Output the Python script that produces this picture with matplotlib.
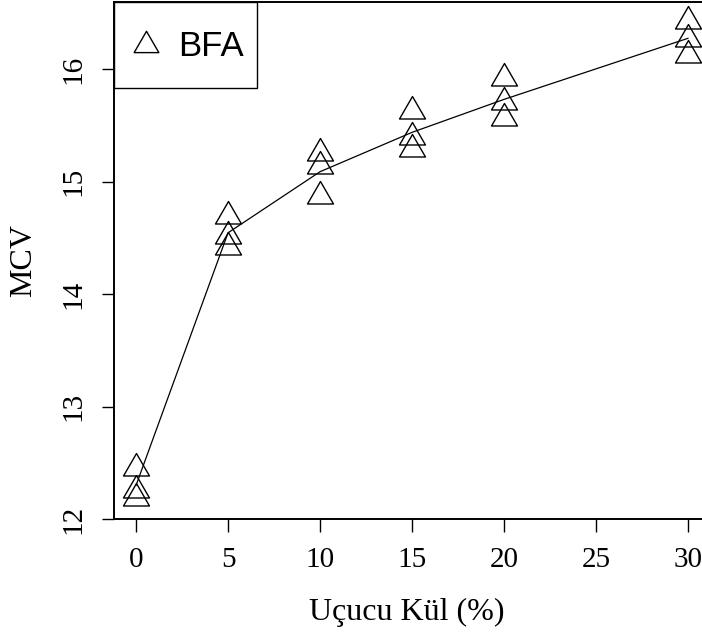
import numpy as np
import matplotlib
matplotlib.use("Agg")
import matplotlib.pyplot as plt
from matplotlib.path import Path
from matplotlib.lines import Line2D
from matplotlib.legend_handler import HandlerLine2D

# data (three replicates per fly-ash level)
kul = [0, 5, 10, 15, 20, 30]
mcv_1 = [12.45, 14.70, 15.26, 15.63, 15.92, 16.43]
mcv_2 = [12.26, 14.52, 15.14, 15.40, 15.71, 16.27]
mcv_3 = [12.19, 14.42, 14.87, 15.29, 15.57, 16.13]
xticks = [0, 5, 10, 15, 20, 25, 30]
yticks = [12, 13, 14, 15, 16]

plt.rcParams["font.family"] = "Liberation Serif"

# R-style pch=2 triangle, centred on its centroid
tri = Path([(0, 1.555), (1.3468, -0.7776), (-1.3468, -0.7776), (0, 1.555)],
           [Path.MOVETO, Path.LINETO, Path.LINETO, Path.CLOSEPOLY])


class DownHandler(HandlerLine2D):
    # nudge the legend marker down a little, like R's legend()
    def create_artists(self, legend, orig_handle, xdescent, ydescent,
                       width, height, fontsize, trans):
        arts = super().create_artists(legend, orig_handle, xdescent, ydescent,
                                      width, height, fontsize, trans)
        for a in arts:
            a.set_ydata(np.asarray(a.get_ydata()) - 6.5)
        return arts


fig = plt.figure(figsize=(7.02, 6.34), dpi=100)
ax = fig.add_axes([114 / 702, 115 / 634, 596 / 702, 517 / 634])

means = np.mean([mcv_1, mcv_2, mcv_3], axis=0)
ax.plot(kul, means, color="black", lw=0.9)

for i, vals in enumerate([mcv_1, mcv_2, mcv_3]):
    ax.plot(kul, vals, ls="none", marker=tri, ms=21.6, mfc="none",
            mec="black", mew=1.0, label="BFA" if i == 0 else None)

ax.set_xlim(-1.2, 31.2)
ax.set_ylim(12, 16.6)
ax.set_xticks(xticks)
ax.set_yticks(yticks)
ax.tick_params(length=9, width=1.0, labelsize=21, pad=11, colors="black")
ax.tick_params(axis="y", labelrotation=90, pad=11)
for lab in ax.get_yticklabels():
    lab.set_va("center")

for s in ax.spines.values():
    s.set_linewidth(1.4)

ax.set_xlabel("Uçucu Kül (%)", fontsize=23)
ax.xaxis.set_label_coords(0.4916, -0.1528)
ax.set_ylabel("MCV", fontsize=23, labelpad=16)

leg = ax.legend(loc="upper left", fancybox=False, edgecolor="black",
                prop={"family": "Liberation Sans", "size": 25},
                handlelength=1.04, handletextpad=0.4, borderpad=0.4,
                handleheight=2.2, borderaxespad=0, framealpha=1,
                handler_map={Line2D: DownHandler()})
leg.get_frame().set_linewidth(1.0)
leg.legend_handles[0].set_markersize(20.5)

fig.savefig("out.png", dpi=100)
